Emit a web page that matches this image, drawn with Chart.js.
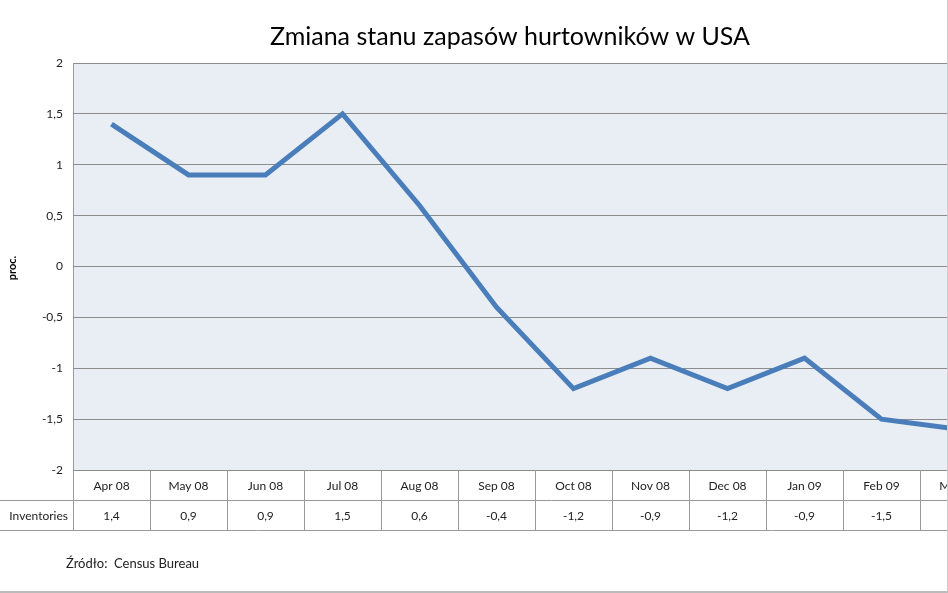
<!DOCTYPE html>
<html><head><meta charset="utf-8">
<script src="https://cdn.jsdelivr.net/npm/chart.js@4/dist/chart.umd.min.js"></script>
<style>
html,body{margin:0;padding:0;background:#fff;overflow:hidden}
#wrap{position:absolute;left:0;top:0;width:948px;height:593px;overflow:hidden;box-sizing:border-box;border-bottom:2px solid #bbb;border-right:1px solid #ccc}
#c{position:absolute;left:0;top:0}
</style></head>
<body><div id="wrap"><canvas id="c" width="1030" height="590" style="width:1030px;height:590px"></canvas></div>
<script>
const categories=["Apr 08","May 08","Jun 08","Jul 08","Aug 08","Sep 08","Oct 08","Nov 08","Dec 08","Jan 09","Feb 09","Mar 09"];
const inventories=[1.4,0.9,0.9,1.5,0.6,-0.4,-1.2,-0.9,-1.2,-0.9,-1.5,-1.6];
const seriesName="Inventories";
const titleText="Zmiana stanu zapasów hurtowników w USA";
const yLabel="proc.";
const sourceText="Źródło:  Census Bureau";
const fmt=v=>String(v).replace('.',',');
const F="Lato, 'Open Sans', sans-serif";
const deco={id:'deco',
beforeDraw(ch){const a=ch.chartArea,c=ch.ctx;c.save();c.fillStyle='#e9edf4';c.fillRect(a.left,a.top,a.right-a.left,a.bottom-a.top);c.restore();},
afterDraw(ch){const a=ch.chartArea,c=ch.ctx,x=ch.scales.x;c.save();
c.fillStyle='#000';c.font="25px "+F;c.textAlign='center';c.textBaseline='middle';c.fillText(titleText,510,37);
c.save();c.translate(12,268);c.rotate(-Math.PI/2);c.font="bold 11px "+F;c.fillText(yLabel,0,0);c.restore();
const r0=a.bottom,r1=r0+30,r2=r1+30;const w=(x.getPixelForValue(1)-x.getPixelForValue(0));
c.strokeStyle='#999';c.lineWidth=1;
c.beginPath();c.moveTo(a.left,r1+.5);c.lineTo(ch.width,r1+.5);c.moveTo(0,r2+.5);c.lineTo(ch.width,r2+.5);c.moveTo(0,r1+.5);c.lineTo(a.left,r1+.5);c.stroke();
c.beginPath();c.moveTo(a.left+.5,a.top);c.lineTo(a.left+.5,r2);c.stroke();
c.font="12px "+F;c.fillStyle='#222';
categories.forEach((cat,i)=>{const px=x.getPixelForValue(i);const xr=Math.round(px+w/2)+.5;
c.beginPath();c.moveTo(xr,r0);c.lineTo(xr,r2);c.stroke();
c.fillText(cat,px,r0+16);c.fillText(fmt(inventories[i]),px,r1+16);});
c.textAlign='right';c.fillText(seriesName,68,r1+16);
c.textAlign='left';c.font="13px "+F;c.fillText(sourceText,66,564);
c.restore();}};
new Chart(document.getElementById('c'),{type:'line',
data:{labels:categories,datasets:[{label:seriesName,data:inventories,borderColor:'#4a7ebb',borderWidth:5,pointRadius:0,tension:0,fill:false}]},
options:{responsive:false,animation:false,devicePixelRatio:1,
layout:{padding:{top:63,bottom:112,left:0,right:33}},
plugins:{legend:{display:false},tooltip:{enabled:false}},
scales:{
x:{offset:true,grid:{display:false},border:{display:false},ticks:{display:false}},
y:{min:-2,max:2,afterFit(s){s.width=73;},ticks:{stepSize:0.5,callback:v=>fmt(v),color:'#222',font:{size:12,family:F},padding:10},grid:{color:'#8c8c8c',drawTicks:false},border:{display:false}}}},
plugins:[deco]});
</script></body></html>
